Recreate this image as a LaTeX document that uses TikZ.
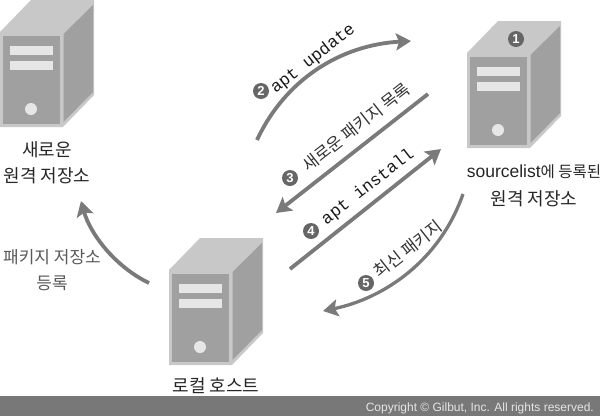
\documentclass[tikz,border=0pt]{standalone}
\usepackage{fontspec}
\setmainfont{Liberation Sans}
\newfontfamily\kr{Noto Sans CJK KR}
\newfontfamily\mymono{Liberation Mono}
\usetikzlibrary{arrows.meta}
\definecolor{srvlight}{HTML}{C8C8C8}
\definecolor{srvdark}{HTML}{A0A0A0}
\definecolor{srvbar}{HTML}{E6E6E6}
\definecolor{flow}{HTML}{7A7A7A}
\tikzset{
  pics/server/.style={code={
    \fill[srvlight] (0,0) -- (31,-32) -- (94,-32) -- (94,63) -- (63,95) -- (0,95) -- cycle;
    \fill[srvdark] (2.5,4) rectangle (60,92);
    \fill[srvdark] (63.5,2) -- (93,-27) -- (93,60) -- (63.5,90) -- cycle;
    \fill[srvbar] (10,14) rectangle (52.5,23);
    \fill[srvbar] (10,29) rectangle (52.5,38);
    \fill[srvbar] (31,77) circle (6);
  }},
  flowline/.style={draw=flow,line width=3.8pt,-{Stealth[length=15pt,width=17pt,inset=3pt]}},
  thinflow/.style={flowline,line width=3.3pt},
  krlabel/.style={font=\kr\fontsize{18}{20}\selectfont,text=black!85,inner sep=0pt},
  graylabel/.style={font=\kr\fontsize{17}{20}\selectfont,text=black!65,inner sep=0pt},
  fliplabel/.style={font=\kr\fontsize{16.8}{18}\selectfont,text=black!80,inner sep=0pt,rotate=38},
  cmdlabel/.style={font=\mymono\fontsize{17}{18}\selectfont,text=black!90,inner sep=0pt,rotate=38},
  num/.style={circle,fill=black!60,text=white,inner sep=0pt,minimum size=16pt,font=\bfseries\fontsize{13}{13}\selectfont},
}
\begin{document}
\begin{tikzpicture}[x=1pt,y=-1pt]
\useasboundingbox (0,0) rectangle (600,416);
\clip (0,0) rectangle (600,416);
\pic at (0,32) {server};
\pic at (467,53) {server};
\pic at (169,270) {server};
\node[num] (n1) at (516,39) {1};

\coordinate (a2s) at (257,140); \coordinate (a2e) at (411,41);
\coordinate (a3s) at (428,94);  \coordinate (a3e) at (276,213);
\coordinate (a4s) at (290,269); \coordinate (a4e) at (441,149);
\coordinate (a5s) at (463,194); \coordinate (a5e) at (323,311);
\coordinate (a6s) at (149,283); \coordinate (a6e) at (81,201);

\draw[flowline] (a2s) .. controls (285,80) and (340,45) .. (a2e);
\draw[flowline] (a3s) -- (a3e);
\draw[flowline] (a4s) -- (a4e);
\draw[thinflow] (a5s) .. controls (440,260) and (385,298) .. (a5e);
\draw[flowline] (a6s) .. controls (114,266) and (90,233) .. (a6e);

\node[num] (n2) at (261,91) {2};
\node[cmdlabel] (t2) at (313,59) {apt update};
\node[num] (n3) at (290,178) {3};
\node[fliplabel] (t3) at (356,127) {새로운 패키지 목록};
\node[num] (n4) at (311,231) {4};
\node[cmdlabel] (t4) at (368,187) {apt install};
\node[num] (n5) at (366,283) {5};
\node[fliplabel] (t5) at (408,249) {최신 패키지};

\node[krlabel] (l1) at (47,150) {새로운};
\node[krlabel] (l2) at (47,176) {원격 저장소};
\node[inner sep=0pt,text=black!85] (l3) at (534,172) {\fontsize{17.5}{20}\selectfont sourcelist\kr\fontsize{15.5}{20}\selectfont 에 등록된};
\node[krlabel] (l4) at (534,199) {원격 저장소};
\node[graylabel] (l5) at (52,257) {패키지 저장소};
\node[graylabel] (l6) at (52,283) {등록};
\node[krlabel] (l7) at (216,386) {로컬 호스트};

\fill[black!53] (0,396) rectangle (600,416);
\node[anchor=east,inner sep=0pt,text=black!10,font=\fontsize{12}{13}\selectfont] (c) at (594,408) {Copyright © Gilbut, Inc. All rights reserved.};
\end{tikzpicture}
\end{document}
